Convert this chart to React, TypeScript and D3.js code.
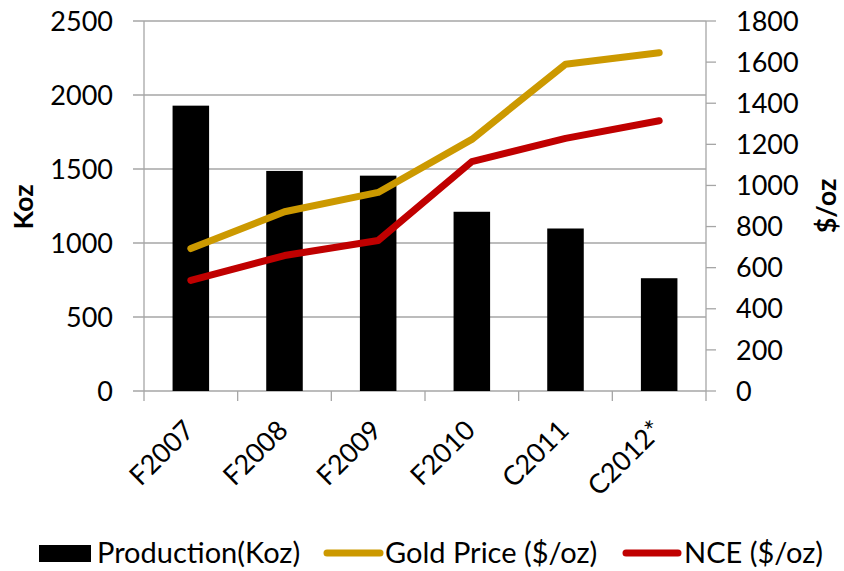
import React from "react";
import * as d3 from "d3";

const categories = ["F2007", "F2008", "F2009", "F2010", "C2011", "C2012*"];
const production = [1928, 1487, 1455, 1211, 1098, 762];
const goldPrice = [693, 872, 966, 1224, 1590, 1646];
const nce = [538, 659, 732, 1116, 1229, 1315];
const leftTicks = [0, 500, 1000, 1500, 2000, 2500];
const rightTicks = [0, 200, 400, 600, 800, 1000, 1200, 1400, 1600, 1800];

const W = 844;
const H = 571;
const plot = { left: 144, right: 706, top: 21, bottom: 391 };
const FONT = "Lato, 'Open Sans', sans-serif";
const GOLD = "#CC9900";
const RED = "#C00000";
const GRID = "#A6A6A6";

export default function App() {
  const x = d3.scaleBand<string>().domain(categories).range([plot.left, plot.right]).paddingInner(0).paddingOuter(0);
  const yL = d3.scaleLinear().domain([0, 2500]).range([plot.bottom, plot.top]);
  const yR = d3.scaleLinear().domain([0, 1800]).range([plot.bottom, plot.top]);
  const bw = x.bandwidth() * 0.39;
  const cx = (c: string) => (x(c) as number) + x.bandwidth() / 2;
  const line = d3
    .line<number>()
    .x((_, i) => cx(categories[i]))
    .y((d) => yR(d));

  return (
    <svg width={W} height={H} style={{ position: "fixed", left: 0, top: 0, background: "#fff" }} fontFamily={FONT}>
      <rect width={W} height={H} fill="#fff" />
      {/* gridlines */}
      {leftTicks.map((t) => (
        <line key={"g" + t} x1={plot.left - 11} x2={plot.right} y1={yL(t)} y2={yL(t)} stroke={GRID} strokeWidth={1.3} />
      ))}
      {/* axis lines */}
      <line x1={plot.left} x2={plot.left} y1={plot.top} y2={plot.bottom} stroke={GRID} strokeWidth={1.3} />
      <line x1={plot.right} x2={plot.right} y1={plot.top} y2={plot.bottom + 10} stroke={GRID} strokeWidth={1.3} />
      {/* category ticks */}
      {categories.map((c) => (
        <line key={"ct" + c} x1={x(c) as number} x2={x(c) as number} y1={plot.bottom} y2={plot.bottom + 10} stroke={GRID} strokeWidth={1.3} />
      ))}
      {/* right ticks */}
      {rightTicks.map((t) => (
        <line key={"rt" + t} x1={plot.right} x2={plot.right + 10} y1={yR(t)} y2={yR(t)} stroke={GRID} strokeWidth={1.3} />
      ))}
      {/* bars */}
      {production.map((v, i) => (
        <rect key={"b" + i} x={cx(categories[i]) - bw / 2} y={yL(v)} width={bw} height={yL(0) - yL(v)} fill="#000" />
      ))}
      {/* lines */}
      <path d={line(goldPrice) as string} fill="none" stroke={GOLD} strokeWidth={7} strokeLinecap="round" strokeLinejoin="round" />
      <path d={line(nce) as string} fill="none" stroke={RED} strokeWidth={7} strokeLinecap="round" strokeLinejoin="round" />
      {/* left tick labels */}
      {leftTicks.map((t) => (
        <text key={"lt" + t} x={113} y={yL(t)} dy="0.36em" textAnchor="end" fontSize={27} fill="#000">
          {t}
        </text>
      ))}
      {/* right tick labels */}
      {rightTicks.map((t) => (
        <text key={"rl" + t} x={736} y={yR(t)} dy="0.36em" textAnchor="start" fontSize={27} fill="#000">
          {t}
        </text>
      ))}
      {/* category labels */}
      {categories.map((c) => (
        <text
          key={"cl" + c}
          transform={`translate(${cx(c) + 5},${plot.bottom + 41}) rotate(-45)`}
          textAnchor="end"
          fontSize={27}
          fill="#000"
        >
          {c}
        </text>
      ))}
      {/* axis titles */}
      <text transform={`translate(33,207) rotate(-90)`} textAnchor="middle" fontSize={27} fontWeight="bold" fill="#000">
        Koz
      </text>
      <text transform={`translate(836,206) rotate(-90)`} textAnchor="middle" fontSize={27} fontWeight="bold" fill="#000">
        $/oz
      </text>
      {/* legend */}
      <g fontSize={29} fill="#000">
        <rect x={39} y={545} width={52} height={17} fill="#000" />
        <text x={97} y={553} dy="0.36em">Production(Koz)</text>
        <line x1={327} x2={380} y1={553} y2={553} stroke={GOLD} strokeWidth={7} strokeLinecap="round" />
        <text x={385} y={553} dy="0.36em">Gold Price ($/oz)</text>
        <line x1={626} x2={678} y1={553} y2={553} stroke={RED} strokeWidth={7} strokeLinecap="round" />
        <text x={684} y={553} dy="0.36em">NCE ($/oz)</text>
      </g>
    </svg>
  );
}
